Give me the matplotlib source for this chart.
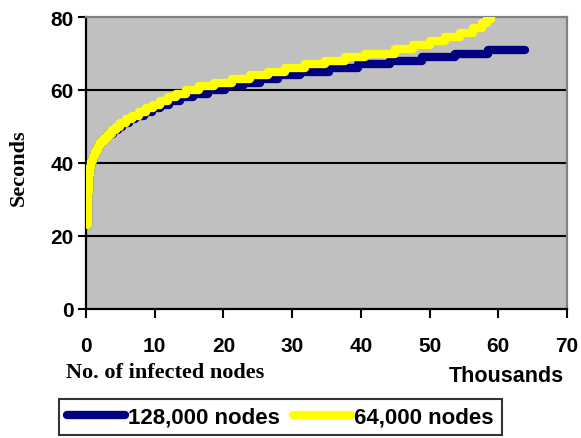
import matplotlib
matplotlib.use("Agg")
import matplotlib.pyplot as plt

# Step points: x in thousands of infected nodes, y in seconds
nodes_128k_x = [0.25, 0.30, 0.35, 0.42, 0.50, 0.65, 0.80, 1.0, 1.3, 1.7, 2.1, 2.6,
                3.2, 3.9, 4.6, 5.3, 6.2, 7.2, 8.4, 9.6, 10.8, 12.1, 13.7, 15.6,
                17.8, 20.3, 22.8, 25.3, 28.0, 31.2, 35.4, 39.6, 44.3, 48.9, 53.7,
                58.5, 63.9]
nodes_128k_y = [23, 28, 32, 35, 37, 39, 40.5, 42, 43.3, 44.6, 45.7, 46.8,
                48, 49, 50, 51, 52, 53, 54, 55, 56, 57, 58, 59,
                60, 61, 62, 63, 64, 65, 66, 67, 68, 69, 70,
                71, 71]

nodes_64k_x = [0.25, 0.30, 0.35, 0.42, 0.50, 0.65, 0.80, 1.0, 1.3, 1.7, 2.1, 2.6,
               3.2, 3.8, 4.4, 5.0, 5.8, 6.7, 7.7, 8.7, 9.7, 10.8, 11.9, 13.1,
               14.5, 16.4, 18.6, 21.2, 23.9, 26.5, 29.0, 31.9, 34.8, 37.7, 40.6,
               45.0, 47.6, 50.1, 52.3, 54.4, 56.3, 57.6, 58.4, 59.0]
nodes_64k_y = [23, 28, 32, 35, 37, 39, 40.5, 42, 43.3, 44.6, 45.7, 46.8,
               48, 49, 50, 51, 52, 53, 54, 55, 56, 57, 58, 59,
               60, 61, 62, 63, 64, 65, 66, 67, 68, 69, 70,
               71.3, 72.3, 73.3, 74.4, 75.6, 77, 78.4, 79.5, 81]

x_ticks = [0, 10, 20, 30, 40, 50, 60, 70]
y_ticks = [0, 20, 40, 60, 80]

sans = "Liberation Sans"
serif = "Liberation Serif"

fig = plt.figure(figsize=(5.81, 4.39), dpi=100)
ax = fig.add_axes([86 / 581, 1 - 310 / 439, (567 - 86) / 581, (310 - 18) / 439])
ax.set_facecolor("#C0C0C0")

for y in [20, 40, 60]:
    ax.axhline(y, color="black", lw=1.5, zorder=1)

l1, = ax.plot(nodes_128k_x, nodes_128k_y, color="#000080", lw=6,
              drawstyle="steps-post", solid_capstyle="round",
              solid_joinstyle="round", zorder=3, label="128,000 nodes")
l2, = ax.plot(nodes_64k_x, nodes_64k_y, color="#FFFF00", lw=6,
              drawstyle="steps-post", solid_capstyle="round",
              solid_joinstyle="round", zorder=4, label="64,000 nodes")

ax.set_xlim(0, 70)
ax.set_ylim(0, 80)
ax.set_xticks(x_ticks)
ax.set_yticks(y_ticks)

for side in ["left", "bottom"]:
    ax.spines[side].set_color("black")
    ax.spines[side].set_linewidth(1.6)
for side in ["top", "right"]:
    ax.spines[side].set_color("#808080")
    ax.spines[side].set_linewidth(1.6)

ax.tick_params(axis="y", direction="out", length=6, width=1.5, pad=3)
ax.tick_params(axis="x", direction="out", length=6.5, width=1.5, pad=13)
for lab in ax.get_xticklabels() + ax.get_yticklabels():
    lab.set_fontfamily(sans)
    lab.set_fontweight("bold")
    lab.set_fontsize(15)

fig.text(19 / 581, 1 - 168 / 439, "Seconds", rotation=90, ha="center",
         va="center", fontfamily=serif, fontweight="bold", fontsize=16)
fig.text(165 / 581, 1 - 373 / 439, "No. of infected nodes", ha="center",
         va="center", fontfamily=serif, fontweight="bold", fontsize=16)
fig.text(564 / 581, 1 - 377 / 439, "Thousands", ha="right", va="center",
         fontfamily=sans, fontweight="bold", fontsize=15.5)

leg = fig.legend(handles=[l1, l2], loc="center", ncol=2,
                 bbox_to_anchor=(280.5 / 581, 1 - 418 / 439),
                 prop={"family": sans, "weight": "bold", "size": 16},
                 frameon=True, fancybox=False, shadow=False,
                 handlelength=2.6, handletextpad=0.15, columnspacing=0.6,
                 borderpad=0.35, borderaxespad=0)
leg.get_frame().set_edgecolor("black")
leg.get_frame().set_linewidth(1.5)
for h in leg.get_lines():
    h.set_solid_capstyle("round")

fig.savefig("out.png", dpi=100)
